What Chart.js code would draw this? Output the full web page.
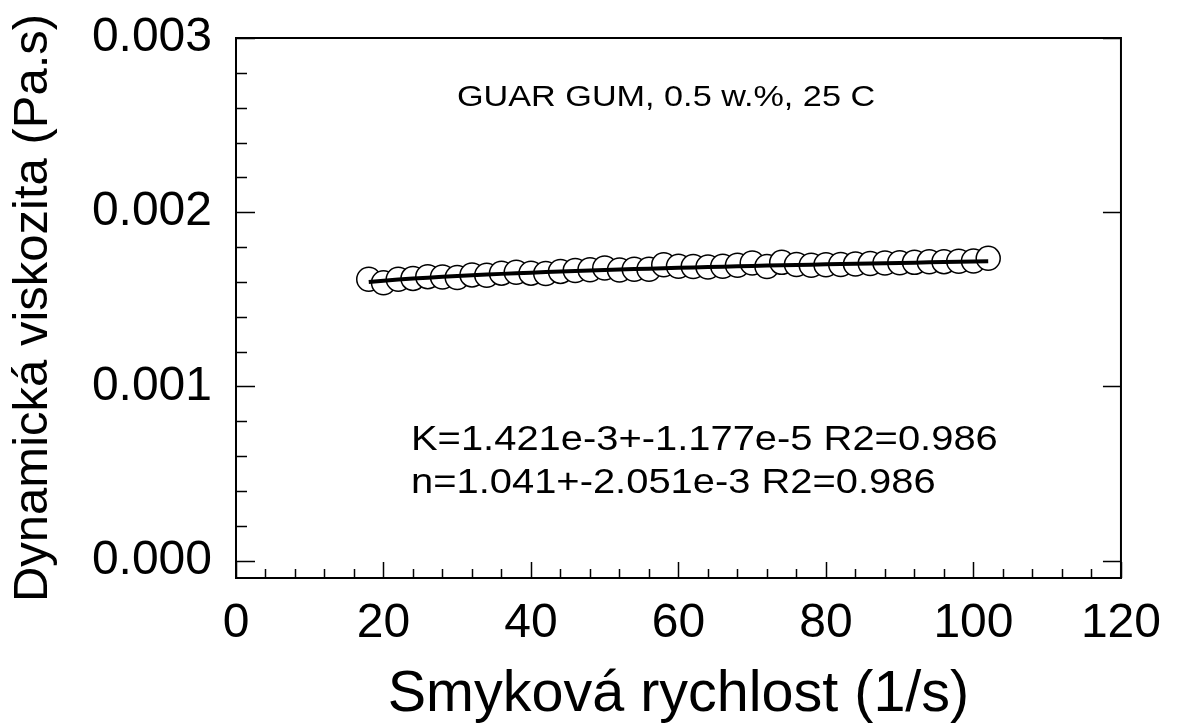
<!DOCTYPE html>
<html>
<head>
<meta charset="utf-8">
<title>Guar gum viscosity</title>
<script src="https://cdn.jsdelivr.net/npm/chart.js@4.4.1/dist/chart.umd.min.js"></script>
<style>
  body { margin: 0; background: #fff; }
  #wrap { width: 1178px; height: 724px; }
</style>
</head>
<body>
<div id="wrap"><canvas id="viscChart" width="1178" height="724"></canvas></div>
<script>
// shear rate (1/s) and measured dynamic viscosity (Pa.s)
const shearRate = [18, 20, 22, 24, 26, 28, 30, 32, 34, 36, 38, 40, 42, 44, 46, 48, 50, 52, 54, 56, 58,
  60, 62, 64, 66, 68, 70, 72, 74, 76, 78, 80, 82, 84, 86, 88, 90, 92, 94, 96, 98, 100, 102];
const viscosity = [0.001615, 0.001595, 0.001615, 0.001620, 0.001630, 0.001628, 0.001625, 0.001640,
  0.001638, 0.001650, 0.001655, 0.001650, 0.001648, 0.001660, 0.001665, 0.001670, 0.001680, 0.001668,
  0.001672, 0.001672, 0.001698, 0.001690, 0.001688, 0.001685, 0.001690, 0.001695, 0.001708, 0.001688,
  0.001712, 0.001700, 0.001695, 0.001698, 0.001700, 0.001702, 0.001705, 0.001708, 0.001710, 0.001712,
  0.001715, 0.001716, 0.001718, 0.001720, 0.001735];

// power-law fit  eta = K * gamma^(n-1)
const fitK = 1.421e-3;
const fitN = 1.041;

const yTicks = [0, 0.001, 0.002, 0.003];
const xTicks = [0, 20, 40, 60, 80, 100, 120];

const titleText = 'GUAR GUM, 0.5 w.%, 25 C';
const fitText = ['K=1.421e-3+-1.177e-5 R2=0.986', 'n=1.041+-2.051e-3 R2=0.986'];

const fitLine = shearRate.map(x => ({ x: x, y: fitK * Math.pow(x, fitN - 1) }));
const points = shearRate.map((x, i) => ({ x: x, y: viscosity[i] }));

const FONT = "'Liberation Sans', Arial, sans-serif";

// frame plus inward ticks (major and minor) like a SigmaPlot axis
const framePlugin = {
  id: 'frame',
  afterDraw(chart) {
    const { ctx, chartArea: a, scales } = chart;
    const xs = scales.x, ys = scales.y;
    ctx.save();
    ctx.strokeStyle = '#000';
    ctx.lineWidth = 2;
    ctx.strokeRect(a.left, a.top, a.right - a.left, a.bottom - a.top);

    ctx.lineWidth = 1.5;
    ctx.beginPath();
    // left axis
    for (let v = 0; v <= 0.0030001; v += 0.0002) {
      const y = Math.round(ys.getPixelForValue(v)) + 0.5;
      const major = Math.abs(v / 0.001 - Math.round(v / 0.001)) < 1e-6;
      ctx.moveTo(a.left, y);
      ctx.lineTo(a.left + (major ? 19 : 11), y);
      if (major) {
        ctx.moveTo(a.right, y);
        ctx.lineTo(a.right - 18, y);
      }
    }
    // bottom axis
    for (let v = 0; v <= 120; v += 4) {
      const x = Math.round(xs.getPixelForValue(v)) + 0.5;
      const major = v % 20 === 0;
      ctx.moveTo(x, a.bottom);
      ctx.lineTo(x, a.bottom - (major ? 16 : 9));
    }
    ctx.stroke();
    ctx.restore();
  }
};

// text notes inside the plot
const notesPlugin = {
  id: 'notes',
  afterDraw(chart) {
    const { ctx, chartArea: a } = chart;
    const put = (txt, x, y, size) => {
      ctx.save();
      ctx.translate(x, y);
      ctx.scale(1.14, 1);
      ctx.font = size + 'px ' + FONT;
      ctx.fillStyle = '#000';
      ctx.textBaseline = 'alphabetic';
      ctx.fillText(txt, 0, 0);
      ctx.restore();
    };
    put(titleText, a.left + 221, 106, 30);
    put(fitText[0], a.left + 175, 450, 35);
    put(fitText[1], a.left + 175, 493, 35);
  }
};

new Chart(document.getElementById('viscChart'), {
  type: 'scatter',
  data: {
    datasets: [
      {
        type: 'line',
        data: fitLine,
        borderColor: '#000',
        borderWidth: 4,
        pointRadius: 0,
        tension: 0,
        fill: false
      },
      {
        data: points,
        pointRadius: 12,
        pointHoverRadius: 12,
        pointBackgroundColor: '#fff',
        pointBorderColor: '#000',
        pointBorderWidth: 1.5
      }
    ]
  },
  options: {
    responsive: false,
    animation: false,
    events: [],
    layout: { padding: { left: 0, top: 38, right: 45, bottom: 0 } },
    plugins: { legend: { display: false }, tooltip: { enabled: false } },
    scales: {
      x: {
        type: 'linear',
        min: 0,
        max: 120,
        afterBuildTicks: s => { s.ticks = xTicks.map(v => ({ value: v })); },
        afterFit: s => { s.height = 146; },
        grid: { display: false, drawTicks: false },
        border: { display: false },
        ticks: {
          color: '#000',
          padding: 17,
          font: { family: FONT, size: 48 },
          maxRotation: 0
        },
        title: {
          display: true,
          text: 'Smyková rychlost (1/s)',
          color: '#000',
          font: { family: FONT, size: 57.5, lineHeight: 1.0 },
          padding: { top: 0, bottom: 0 }
        }
      },
      y: {
        type: 'linear',
        min: -0.0001,
        max: 0.003,
        afterBuildTicks: s => { s.ticks = yTicks.map(v => ({ value: v })); },
        afterFit: s => { s.width = 236; },
        grid: { display: false, drawTicks: false },
        border: { display: false },
        ticks: {
          color: '#000',
          padding: 24,
          font: { family: FONT, size: 48, lineHeight: 0.5 },
          callback: v => v.toFixed(3)
        },
        title: {
          display: true,
          text: 'Dynamická viskozita (Pa.s)',
          color: '#000',
          font: { family: FONT, size: 49 },
          padding: { top: 4, bottom: 0 }
        }
      }
    }
  },
  plugins: [framePlugin, notesPlugin]
});
</script>
</body>
</html>
